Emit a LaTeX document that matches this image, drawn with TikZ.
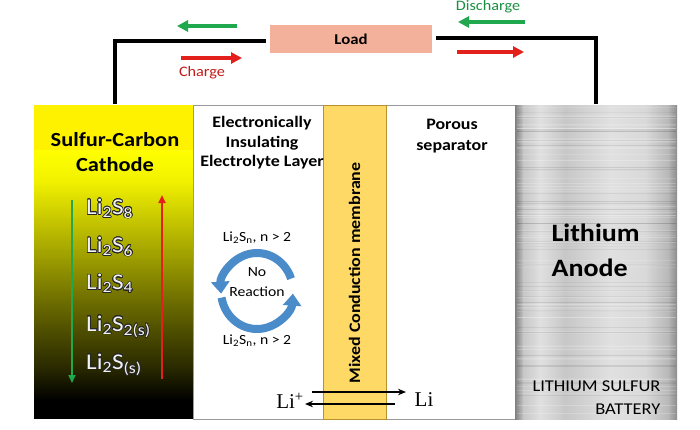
\documentclass[tikz,border=0pt]{standalone}
\usepackage{fontspec}
\setmainfont{Carlito}[FakeStretch=1.12]
\newfontfamily\serifli{Liberation Serif}
\usepackage{contour}
\contourlength{0.7pt}
\contournumber{20}
\usetikzlibrary{arrows.meta}
\definecolor{loadc}{HTML}{F3B09A}
\definecolor{gre}{HTML}{1FA84E}
\definecolor{redc}{HTML}{E3201C}
\definecolor{memb}{HTML}{FFD966}
\definecolor{membd}{HTML}{B8912A}
\definecolor{cyc}{HTML}{4A8BC9}
\definecolor{cyA}{HTML}{F2F200}
\definecolor{cyB}{HTML}{6E6E00}
\definecolor{cyC}{HTML}{262600}
\definecolor{lab}{HTML}{F2F2F2}
\tikzset{
  wire/.style={line width=4pt, black},
  bigarrow/.style={line width=3.6pt, -{Triangle[length=11pt,width=11pt]}},
  catharrow/.style={line width=2.5pt, -{Triangle[length=8pt,width=7pt]}},
  region/.style={draw=black!40, line width=0.6pt, inner sep=0pt},
  headtxt/.style={font=\bfseries\fontsize{16}{19.5}\selectfont, align=center},
  lisl/.style={font=\fontsize{22.5}{24}\selectfont, text=lab, anchor=west, inner sep=0pt},
  cycarrow/.style={cyc, line width=8pt, -{Triangle[length=12pt,width=18pt]}},
  small/.style={font=\fontsize{14}{16}\selectfont},
  liarrow/.style={line width=1.6pt, -{Stealth[length=8pt,width=6.5pt]}},
}
\begin{document}
\begin{tikzpicture}[x=1pt,y=-1pt]
\useasboundingbox (0,0) rectangle (700,429);
\fill[white] (0,0) rectangle (700,429);

% cathode shading
\fill[yellow] (34,105) rectangle (193,150.5);
\shade[top color=yellow, bottom color=cyA] (34,150) rectangle (193,180.5);
\shade[top color=cyA, bottom color=cyB] (34,180) rectangle (193,300.5);
\shade[top color=cyB, bottom color=cyC] (34,300) rectangle (193,370.5);
\shade[top color=cyC, bottom color=black] (34,370) rectangle (193,400.5);
\fill[black] (34,400) rectangle (193,419);
\node[inner sep=0pt, minimum width=159pt, minimum height=314pt] (cathode) at (113.5,262) {};

% electrolyte and separator
\node[region, minimum width=130pt, minimum height=314pt] (elec) at (258,262) {};
\node[region, minimum width=129pt, minimum height=314pt] (sep) at (450.5,262) {};
\node[draw=membd, fill=memb, line width=0.8pt, minimum width=63pt, minimum height=314pt, inner sep=0pt] (memb) at (354.5,262) {};

% anode shading
\shade[left color=black!50, right color=black!22] (515,105) rectangle (523.5,419);
\shade[left color=black!22, right color=black!12] (523,105) rectangle (540.5,419);
\shade[left color=black!12, right color=black!22] (540,105) rectangle (565.5,419);
\shade[left color=black!22, right color=black!12] (565,105) rectangle (610.5,419);
\shade[left color=black!12, right color=black!15] (610,105) rectangle (645.5,419);
\shade[left color=black!15, right color=black!28] (645,105) rectangle (668.5,419);
\shade[left color=black!28, right color=black!45] (668,105) rectangle (677,419);
\pgfmathsetseed{7}
\foreach \i in {1,...,60}{
  \pgfmathsetmacro\yy{106+rnd*312}
  \pgfmathsetmacro\op{0.08+rnd*0.15}
  \draw[white, opacity=\op, line width=0.8pt] (517,\yy) -- (676,\yy);
}
\foreach \i in {1,...,40}{
  \pgfmathsetmacro\yy{106+rnd*312}
  \pgfmathsetmacro\op{0.03+rnd*0.07}
  \draw[black, opacity=\op, line width=0.6pt] (517,\yy) -- (676,\yy);
}
\node[inner sep=0pt, minimum width=162pt, minimum height=314pt] (anode) at (596,262) {};

% load and wires
\node[fill=loadc, minimum width=162pt, minimum height=28pt, font=\bfseries\fontsize{15}{17}\selectfont] (load) at (351,39) {Load};
\draw[wire] ([yshift=-2pt]load.west) ++(-4,0) -| (115,104);
\draw[wire] ([yshift=1pt]load.east) ++(4,0) -| (596,104);

% charge/discharge arrows
\coordinate (g1s) at (237,26); \coordinate (g1e) at (177,26);
\coordinate (r1s) at (181,58); \coordinate (r1e) at (242,58);
\coordinate (g2s) at (525,22); \coordinate (g2e) at (458,22);
\coordinate (r2s) at (457,52); \coordinate (r2e) at (524,52);
\draw[bigarrow, gre] (g1s) -- (g1e);
\draw[bigarrow, redc] (r1s) -- (r1e);
\draw[bigarrow, gre] (g2s) -- (g2e);
\draw[bigarrow, redc] (r2s) -- (r2e);
\node[text=redc!85!black, font=\fontsize{14.5}{16}\selectfont] (charge) at (202,73) {Charge};
\node[text=gre!85!black, font=\fontsize{14.5}{16}\selectfont] (discharge) at (488,7) {Discharge};

% cathode labels
\node[font=\bfseries\fontsize{20}{25}\selectfont, align=center] (cathtxt) at (115,152) {Sulfur-Carbon\\Cathode};
\node[lisl] (l8) at (86,209) {\contour{black!85}{Li\textsubscript{2}S\textsubscript{8}}};
\node[lisl] (l6) at (86,247) {\contour{black!85}{Li\textsubscript{2}S\textsubscript{6}}};
\node[lisl] (l4) at (86,284) {\contour{black!85}{Li\textsubscript{2}S\textsubscript{4}}};
\node[lisl] (l2) at (86,327) {\contour{black!85}{Li\textsubscript{2}S\textsubscript{2(s)}}};
\node[lisl] (l1) at (86,365) {\contour{black!85}{Li\textsubscript{2}S\textsubscript{(s)}}};
\coordinate (gcs) at (72,200); \coordinate (gce) at (72,383);
\coordinate (rcs) at (162,379); \coordinate (rce) at (162,195);
\draw[catharrow, gre] (gcs) -- (gce);
\draw[catharrow, redc] (rcs) -- (rce);

% electrolyte labels
\node[headtxt] (eltxt) at (262,143) {Electronically\\Insulating\\Electrolyte Layer};
\node[small] (top) at (257,238) {Li\textsubscript{2}S\textsubscript{n}, n > 2};
\node[small] (bot) at (257,341) {Li\textsubscript{2}S\textsubscript{n}, n > 2};
\node[align=center, font=\fontsize{14}{20}\selectfont] (noreac) at (257,282) {No\\Reaction};
\coordinate (cc) at (257,291);
\draw[cycarrow] ([shift={(-19:36 and 38)}]cc) arc[start angle=-19, end angle=-184, x radius=36, y radius=38];
\draw[cycarrow] ([shift={(-190:36 and 38)}]cc) arc[start angle=-190, end angle=-356, x radius=36, y radius=38];

% membrane label
\node[rotate=90, font=\bfseries\fontsize{16}{18}\selectfont] (membtxt) at (memb.center |- 0,273) {Mixed Conduction membrane};

% separator label
\node[headtxt, font=\bfseries\fontsize{16}{21}\selectfont] (septxt) at (452,136) {Porous\\separator};

% Li arrows
\node[font=\serifli\fontsize{21}{23}\selectfont, inner sep=1pt] (liplus) at (290,401) {Li\textsuperscript{+}};
\node[font=\serifli\fontsize{21}{23}\selectfont, inner sep=1pt] (li) at (424,400) {Li};
\coordinate (a1s) at (312,392); \coordinate (a1e) at (406,392);
\coordinate (a2s) at (395,404); \coordinate (a2e) at (305,404);
\draw[liarrow] (a1s) -- (a1e);
\draw[liarrow] (a2s) -- (a2e);

% anode labels
\node[font=\bfseries\fontsize{25}{35}\selectfont, align=left, anchor=west] (antxt) at (548,250) {Lithium\\Anode};
\node[font=\fontsize{16.5}{23}\selectfont, align=right, anchor=east] (battxt) at (664,398) {LITHIUM SULFUR\\BATTERY};
\end{tikzpicture}
\end{document}
